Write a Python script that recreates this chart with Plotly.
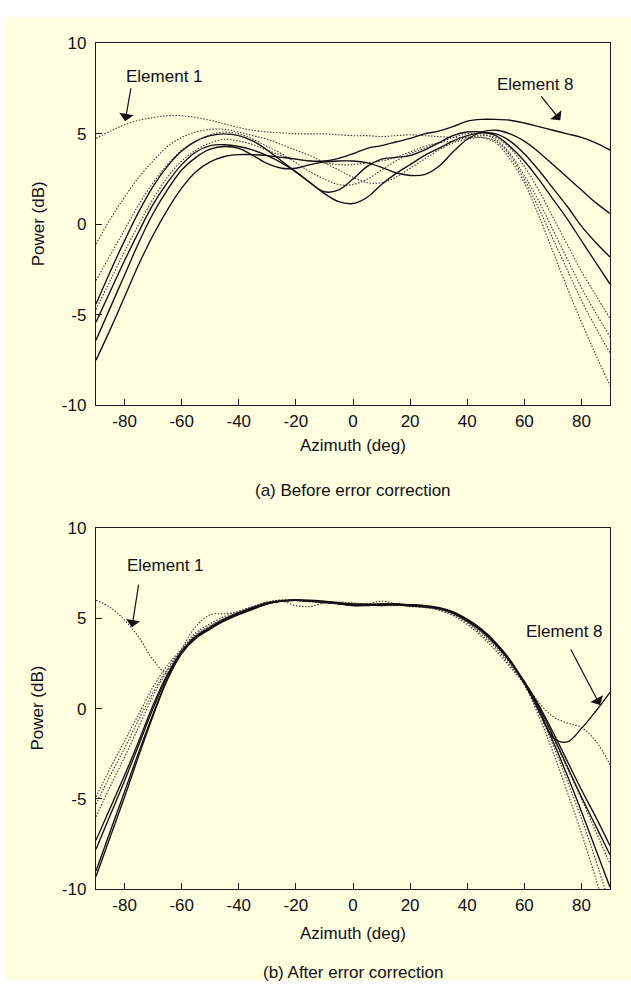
import plotly.graph_objects as go

# ---------------- data ----------------
azimuth = [-90, -85, -80, -75, -70, -65, -60, -55, -50, -45, -40, -35, -30, -25, -20, -15, -10, -5, 0,
           5, 10, 15, 20, 25, 30, 35, 40, 45, 50, 55, 60, 65, 70, 75, 80, 85, 90]

# (a) Before error correction
top_el1 = [4.75, 5.15, 5.5, 5.75, 5.9, 6.0, 6.0, 5.9, 5.75, 5.55, 5.35, 5.2, 5.1, 5.05, 5.0, 5.0, 5.0, 4.95, 4.9,
           4.9, 4.85, 4.9, 4.95, 4.9, 4.85, 4.8, 4.8, 4.8, 4.5, 3.6, 2.3, 0.5, -1.5, -3.5, -5.4, -7.2, -8.9]
top_el2 = [-1.1, 0.3, 1.5, 2.6, 3.5, 4.3, 4.8, 5.1, 5.25, 5.25, 5.1, 4.9, 4.7, 4.4, 4.1, 3.8, 3.4, 3.0, 2.6,
           2.3, 2.3, 2.6, 3.1, 3.6, 4.1, 4.5, 4.7, 4.8, 4.6, 3.8, 2.5, 0.9, -0.8, -2.5, -4.2, -5.7, -7.1]
top_el3 = [-3.1, -1.7, -0.3, 1.1, 2.3, 3.3, 4.1, 4.6, 4.95, 5.1, 5.0, 4.7, 4.3, 3.9, 3.4, 2.9, 2.5, 2.2, 2.2,
           2.5, 3.0, 3.5, 3.9, 4.2, 4.5, 4.8, 5.0, 5.0, 4.7, 3.9, 2.7, 1.3, -0.3, -1.9, -3.5, -4.9, -6.2]
top_el4 = [-4.7, -3.1, -1.5, 0.0, 1.4, 2.6, 3.5, 4.1, 4.5, 4.7, 4.6, 4.4, 4.1, 3.8, 3.6, 3.5, 3.4, 3.3, 3.3,
           3.4, 3.5, 3.7, 4.0, 4.3, 4.5, 4.6, 4.8, 4.9, 4.8, 4.2, 3.2, 1.9, 0.4, -1.1, -2.6, -3.9, -5.2]
top_el5 = [-4.4, -2.6, -0.9, 0.7, 2.1, 3.2, 4.05, 4.6, 4.9, 5.0, 4.9, 4.6, 4.1, 3.5, 2.9, 2.3, 1.8, 1.9, 2.5,
           3.2, 3.6, 3.7, 3.8, 4.1, 4.5, 4.9, 5.1, 5.1, 4.9, 4.3, 3.5, 2.5, 1.4, 0.3, -0.9, -2.1, -3.3]
top_el6 = [-5.4, -3.7, -2.0, -0.4, 1.1, 2.3, 3.3, 4.0, 4.35, 4.4, 4.3, 4.1, 3.8, 3.4, 2.9, 2.3, 1.7, 1.25, 1.15,
           1.5, 2.2, 2.8, 3.3, 3.8, 4.2, 4.6, 4.9, 5.05, 5.0, 4.6, 3.9, 3.0, 2.0, 1.0, -0.1, -1.0, -1.8]
top_el7 = [-6.4, -4.6, -2.8, -1.0, 0.6, 1.9, 3.0, 3.7, 4.15, 4.3, 4.2, 3.8, 3.35, 3.1, 3.1, 3.3, 3.45, 3.5, 3.5,
           3.4, 3.15, 2.85, 2.7, 2.75, 3.2, 4.0, 4.7, 5.1, 5.2, 5.0, 4.6, 4.0, 3.3, 2.6, 1.9, 1.2, 0.6]
top_el8 = [-7.5, -5.8, -4.0, -2.2, -0.6, 0.8, 2.0, 2.9, 3.45, 3.75, 3.85, 3.85, 3.8, 3.7, 3.6, 3.5, 3.5, 3.65, 3.9,
           4.2, 4.35, 4.55, 4.75, 5.0, 5.15, 5.4, 5.7, 5.8, 5.8, 5.75, 5.6, 5.4, 5.2, 5.0, 4.8, 4.5, 4.1]

# (b) After error correction
bot_el1 = [6.0, 5.6, 4.9, 3.95, 2.7, 1.95, 3.3, 4.55, 5.2, 5.25, 5.35, 5.6, 5.85, 5.95, 5.7, 5.65, 5.85, 5.9, 5.85,
           5.8, 5.95, 5.8, 5.65, 5.6, 5.5, 5.25, 4.8, 4.25, 3.5, 2.6, 1.5, 0.35, -0.45, -0.8, -1.05, -1.8, -3.1]
bot_el2 = [-4.9, -3.3, -1.8, -0.3, 1.2, 2.4, 3.3, 4.2, 4.7, 5.1, 5.4, 5.65, 5.9, 6.0, 6.0, 5.95, 5.9, 5.8, 5.7,
           5.75, 5.8, 5.8, 5.72, 5.62, 5.45, 5.15, 4.65, 4.0, 3.2, 2.3, 1.3, -0.4, -2.4, -4.6, -6.9, -9.4, -12.0]
bot_el3 = [-5.3, -3.7, -2.2, -0.6, 0.9, 2.2, 3.25, 4.1, 4.6, 5.0, 5.35, 5.65, 5.9, 6.02, 6.02, 5.95, 5.85, 5.8, 5.8,
           5.8, 5.7, 5.7, 5.75, 5.65, 5.5, 5.2, 4.75, 4.1, 3.35, 2.4, 1.35, -0.2, -2.0, -4.0, -6.1, -8.4, -10.9]
bot_el4 = [-6.0, -4.3, -2.7, -1.0, 0.7, 2.1, 3.2, 4.05, 4.55, 5.0, 5.3, 5.55, 5.8, 5.95, 5.98, 5.9, 5.85, 5.85, 5.75,
           5.7, 5.75, 5.8, 5.7, 5.6, 5.5, 5.25, 4.8, 4.2, 3.45, 2.5, 1.4, -0.1, -1.6, -3.3, -5.0, -6.8, -8.6]
bot_el5 = [-7.3, -5.5, -3.7, -1.8, 0.2, 1.9, 3.15, 4.0, 4.5, 4.95, 5.3, 5.6, 5.85, 5.95, 6.0, 5.98, 5.9, 5.8, 5.72,
           5.7, 5.75, 5.78, 5.75, 5.7, 5.6, 5.35, 4.9, 4.35, 3.6, 2.65, 1.5, 0.2, -1.3, -2.9, -4.5, -6.0, -7.6]
bot_el6 = [-7.8, -5.9, -4.0, -2.0, 0.0, 1.8, 3.1, 3.95, 4.45, 4.9, 5.25, 5.55, 5.8, 5.95, 6.0, 5.95, 5.9, 5.85, 5.8,
           5.75, 5.7, 5.75, 5.75, 5.7, 5.55, 5.3, 4.85, 4.3, 3.55, 2.6, 1.45, 0.1, -1.5, -3.2, -4.9, -6.5, -8.1]
bot_el7 = [-9.3, -7.1, -4.9, -2.6, -0.4, 1.6, 3.05, 3.9, 4.4, 4.85, 5.2, 5.5, 5.8, 5.95, 6.02, 6.0, 5.95, 5.85, 5.75,
           5.78, 5.8, 5.75, 5.68, 5.65, 5.55, 5.35, 4.95, 4.4, 3.65, 2.7, 1.4, -0.1, -1.8, -3.7, -5.7, -7.8, -9.9]
bot_el8 = [-9.0, -6.8, -4.6, -2.4, -0.3, 1.65, 3.1, 3.95, 4.45, 4.9, 5.25, 5.55, 5.82, 5.97, 6.0, 5.95, 5.88, 5.8, 5.7,
           5.72, 5.78, 5.8, 5.72, 5.65, 5.55, 5.3, 4.9, 4.35, 3.6, 2.6, 1.4, 0.0, -1.6, -1.85, -1.1, -0.15, 0.9]

x_tickvals = [-80, -60, -40, -20, 0, 20, 40, 60, 80]
x_ticktext = ["-80", "-60", "-40", "-20", "0", "20", "40", "60", "80"]
y_tickvals = [-10, -5, 0, 5, 10]
y_ticktext = ["-10", "-5", "0", "5", "10"]

top_series = [top_el1, top_el2, top_el3, top_el4, top_el5, top_el6, top_el7, top_el8]
bot_series = [bot_el1, bot_el2, bot_el3, bot_el4, bot_el5, bot_el6, bot_el7, bot_el8]
dotted = [True, True, True, True, False, False, False, False]

# ---------------- figure ----------------
W, H = 631, 1007
BG = "#FEFEE0"
FONT = "Arial, Liberation Sans, Helvetica, sans-serif"
AX = "#1a1a1a"

fig = go.Figure()

def add_curves(series, xa, ya):
    for i, ys in enumerate(series):
        if dotted[i]:
            line = dict(color="#3a3a3a", width=1.1, dash="1.5px,1.6px", shape="spline", smoothing=1.0)
        else:
            line = dict(color="#111111", width=1.35, shape="spline", smoothing=1.0)
        fig.add_trace(go.Scatter(x=azimuth, y=ys, mode="lines", line=line,
                                 xaxis=xa, yaxis=ya, showlegend=False, hoverinfo="skip"))

add_curves(top_series, "x", "y")
add_curves(bot_series, "x2", "y2")

def px_x(p):
    return p / W

def px_y(p):
    return 1 - p / H

axis_common = dict(showline=True, linecolor=AX, linewidth=1.4, mirror=True, ticks="inside",
                   ticklen=6, tickwidth=1, tickcolor=AX, showgrid=False, zeroline=False,
                   tickfont=dict(family=FONT, size=17, color="#111"))

xdom = [px_x(96), px_x(610)]
fig.update_layout(
    width=W, height=H,
    margin=dict(l=0, r=0, t=0, b=0),
    paper_bgcolor="white",
    plot_bgcolor=BG,
    showlegend=False,
    xaxis=dict(domain=xdom, range=[-90, 90], anchor="y", tickvals=x_tickvals, ticktext=x_ticktext, **axis_common),
    yaxis=dict(domain=[px_y(404), px_y(35)], range=[-10, 10], anchor="x", tickvals=y_tickvals, ticktext=y_ticktext,
               ticklabelstandoff=5, **axis_common),
    xaxis2=dict(domain=xdom, range=[-90, 90], anchor="y2", tickvals=x_tickvals, ticktext=x_ticktext, **axis_common),
    yaxis2=dict(domain=[px_y(897), px_y(529)], range=[-10, 10], anchor="x2", tickvals=y_tickvals, ticktext=y_ticktext,
                ticklabelstandoff=5, **axis_common),
)

fig.add_shape(type="rect", xref="paper", yref="paper", x0=px_x(5), x1=1, y0=px_y(990), y1=px_y(8),
              fillcolor=BG, line=dict(width=0), layer="below")

txt = dict(family=FONT, size=17, color="#111")
labels = [
    ("Azimuth (deg)", (96 + 610) / 2, 445, 0),
    ("(a) Before error correction", (96 + 610) / 2, 491, 0),
    ("Azimuth (deg)", (96 + 610) / 2, 942, 0),
    ("(b) After error correction", (96 + 610) / 2, 982, 0),
    ("Power (dB)", 38, (35 + 404) / 2, -90),
    ("Power (dB)", 38, (529 + 897) / 2, -90),
]
for t, xp, yp, ang in labels:
    fig.add_annotation(text=t, x=px_x(xp), y=px_y(yp), xref="paper", yref="paper", showarrow=False,
                       xanchor="center", yanchor="middle", textangle=ang, font=txt)

# element labels and arrows: (text, text_x, text_y, tail_x, tail_y, tip_x, tip_y, xref, yref)
callouts = [
    ("Element 1", -66.0, 8.15, -77.7, 7.6, -79.8, 5.7, "x", "y"),
    ("Element 8", 63.9, 7.7, 65.5, 7.15, 72.6, 5.75, "x", "y"),
    ("Element 1", -65.5, 7.9, -75.0, 6.95, -77.4, 4.5, "x2", "y2"),
    ("Element 8", 74.2, 4.25, 76.0, 3.35, 86.5, 0.2, "x2", "y2"),
]
for t, tx, ty, ax_, ay_, hx, hy, xr, yr in callouts:
    fig.add_annotation(text=t, x=tx, y=ty, xref=xr, yref=yr, showarrow=False,
                       xanchor="center", yanchor="middle", font=txt)
    fig.add_annotation(text="", x=hx, y=hy, xref=xr, yref=yr, ax=ax_, ay=ay_, axref=xr, ayref=yr,
                       showarrow=True, arrowhead=1, arrowsize=2.0, arrowwidth=1.2, arrowcolor="#111",
                       standoff=0, startstandoff=0)

fig.write_html("out.html")
